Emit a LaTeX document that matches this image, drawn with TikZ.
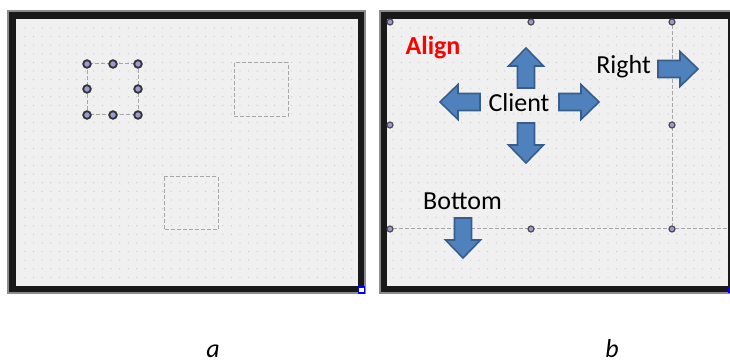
\documentclass[tikz,border=0pt]{standalone}
\usepackage{fontspec}
\setmainfont{Carlito}
\definecolor{formbg}{HTML}{F0F0F0}
\definecolor{arrowfill}{HTML}{4F81BD}
\definecolor{arrowline}{HTML}{385D8A}
\definecolor{handlefill}{HTML}{9A9AD6}
\begin{document}
\begin{tikzpicture}[
  x=0.5pt, y=-0.5pt,
  font=\fontsize{13}{15}\selectfont,
  frame/.style={fill=black!90, draw=black!45, line width=0.6pt},
  form/.style={fill=formbg},
  griddot/.style={fill=black!22},
  ghost/.style={draw=black!35, line width=0.5pt, dash pattern=on 2pt off 1pt},
  handle/.style={circle, draw=black!80, fill=handlefill, line width=0.9pt, inner sep=0pt, minimum size=3.8pt},
  smallhandle/.style={handle, minimum size=3pt, line width=0.6pt, draw=black!70},
  txt/.style={anchor=base, inner sep=0pt},
  caption/.style={txt, font=\fontsize{13}{15}\selectfont\itshape},
  bigarrow/.pic={\draw[fill=arrowfill, draw=arrowline, line width=0.8pt]
    (0,-8.5) -- (22,-8.5) -- (22,-17.5) -- (40,0) -- (22,17.5) -- (22,8.5) -- (0,8.5) -- cycle;}
]
\useasboundingbox (0,0) rectangle (730,362);

% panel a
\draw[frame] (8,11) rectangle (365,293);
\fill[form] (16,19) rectangle (358,286);
\foreach \i in {0,...,38}
  \foreach \j in {0,...,29}
    \fill[griddot] (25+8.6*\i, 28+8.6*\j) circle (0.3pt);
\draw[ghost] (87,64) rectangle (138,115);
\draw[ghost] (234,63) rectangle (288,117);
\draw[ghost] (164,177) rectangle (218,230);
\foreach \hx/\hy [count=\k] in {87/64, 113/64, 138/64, 87/89, 138/89, 87/115, 113/115, 138/115}
  \node[handle] (ha\k) at (\hx,\hy) {};
\draw[blue, fill=white, line width=0.6pt] (358.5,287) rectangle (364.5,293);

% panel b
\draw[frame] (380,11) rectangle (731,293);
\fill[form] (387,19) rectangle (728,286);
\foreach \i in {0,...,38}
  \foreach \j in {0,...,29}
    \fill[griddot] (393+8.6*\i, 28+8.6*\j) circle (0.3pt);
\draw[ghost] (672,19) -- (672,229);
\draw[ghost] (387,229) -- (728,229);
\foreach \hx/\hy [count=\k] in {390/22, 531/22, 672/22, 390/125, 672/125, 390/229, 531/229, 672/229}
  \node[smallhandle] (hb\k) at (\hx,\hy) {};
\fill[blue] (728,287) rectangle (730,293);

\node[txt, text=red, font=\fontsize{13}{15}\selectfont\bfseries] (align) at (433,55) {Align};
\node[txt] (client) at (519,112) {Client};
\node[txt] (right) at (623.5,74) {Right};
\node[txt] (bottom) at (462.5,210) {Bottom};

\pic[rotate=90] at (526,88) {bigarrow};
\pic[rotate=270] at (526,123) {bigarrow};
\pic[rotate=180] at (480,102) {bigarrow};
\pic at (559,102) {bigarrow};
\pic at (658,69) {bigarrow};
\pic[rotate=270] at (463,218) {bigarrow};

% captions
\node[caption] (capa) at (213,358) {a};
\node[caption] (capb) at (612,358) {b};
\end{tikzpicture}
\end{document}
